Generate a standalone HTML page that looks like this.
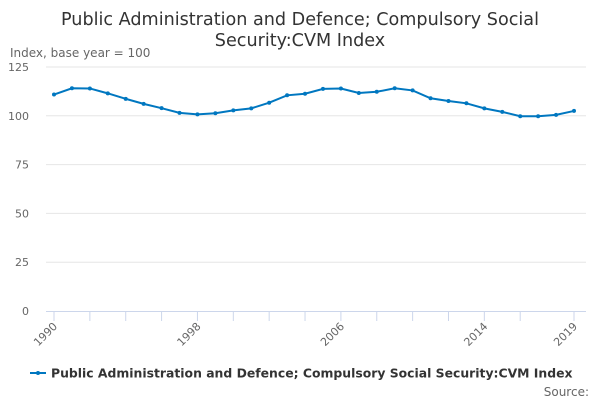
<!DOCTYPE html>
<html><head><meta charset="utf-8"><style>
body{margin:0;background:#fff;}
svg{display:block;font-family:"DejaVu Sans","Liberation Sans",sans-serif;}
</style></head><body>
<svg id="chart" width="600" height="400" viewBox="0 0 600 400">
<text x="300" y="25" text-anchor="middle" font-size="17.6" fill="#333">Public Administration and Defence; Compulsory Social</text>
<text x="300" y="46" text-anchor="middle" font-size="17.6" fill="#333">Security:CVM Index</text>
<text x="10" y="57" font-size="12" fill="#666">Index, base year = 100</text>
<g id="grid"></g><g id="xaxis"></g>
<path id="line" fill="none" stroke="#0077c0" stroke-width="2"/>
<g id="pts"></g>
<g>
<line x1="30" y1="373" x2="46" y2="373" stroke="#0077c0" stroke-width="2"/>
<circle cx="38" cy="373" r="2" fill="#0077c0"/>
<text x="51" y="377.5" font-size="12.4" font-weight="bold" fill="#333">Public Administration and Defence; Compulsory Social Security:CVM Index</text>
</g>
<text x="589" y="396" text-anchor="end" font-size="12" fill="#666">Source:</text>
</svg>
<script>
const years=[1990,1991,1992,1993,1994,1995,1996,1997,1998,1999,2000,2001,2002,2003,2004,2005,2006,2007,2008,2009,2010,2011,2012,2013,2014,2015,2016,2017,2018,2019];
const values=[110.9,114.1,114,111.5,108.7,106.1,103.9,101.5,100.7,101.3,102.8,103.8,106.7,110.5,111.3,113.8,114,111.7,112.3,114.1,113,109,107.6,106.4,103.8,102,99.8,99.8,100.5,102.5];
const yTicks=[0,25,50,75,100,125];
const xLabels=[1990,1998,2006,2014,2019];
const xTicks=[1990,1992,1994,1996,1998,2000,2002,2004,2006,2008,2010,2012,2014,2016,2019];
const NS="http://www.w3.org/2000/svg";
const X=y=>54+(y-1990)*(574-54)/29;
const Y=v=>311-v*(311-67)/125;
const grid=document.getElementById('grid');
yTicks.forEach(t=>{
 if(t>0){const l=document.createElementNS(NS,'line');
 l.setAttribute('x1',46);l.setAttribute('x2',586);l.setAttribute('y1',Y(t));l.setAttribute('y2',Y(t));
 l.setAttribute('stroke','#e6e6e6');
 
 
 grid.appendChild(l);}
 const tx=document.createElementNS(NS,'text');
 tx.setAttribute('x',29);tx.setAttribute('y',Y(t)+4);tx.setAttribute('text-anchor','end');
 tx.setAttribute('font-size','11');tx.setAttribute('fill','#666');tx.textContent=t;
 
 
 grid.appendChild(tx);
});
const xa=document.getElementById('xaxis');
const al=document.createElementNS(NS,'line');
al.setAttribute('x1',46);al.setAttribute('x2',586);al.setAttribute('y1',311.5);al.setAttribute('y2',311.5);al.setAttribute('stroke','#ccd6eb');


xa.appendChild(al);
xTicks.forEach(v=>{
 const t=document.createElementNS(NS,'line');
 t.setAttribute('x1',X(v));t.setAttribute('x2',X(v));t.setAttribute('y1',311);t.setAttribute('y2',321);
 t.setAttribute('stroke','#ccd6eb');
 
 
 xa.appendChild(t);
});
xLabels.forEach(v=>{
 const tx=document.createElementNS(NS,'text');
 const x=X(v),y=327;
 tx.setAttribute('x',x+4);tx.setAttribute('y',y);tx.setAttribute('text-anchor','end');
 tx.setAttribute('font-size','11');tx.setAttribute('fill','#666');
 tx.setAttribute('transform','rotate(-45 '+(x+4)+' '+y+')');
 tx.textContent=v;
 
 
 xa.appendChild(tx);
});
document.getElementById('line').setAttribute('d',values.map((v,i)=>(i?'L':'M')+X(years[i])+' '+Y(v)).join(' '));
const pts=document.getElementById('pts');
values.forEach((v,i)=>{
 const c=document.createElementNS(NS,'circle');
 c.setAttribute('cx',X(years[i]));c.setAttribute('cy',Y(v));c.setAttribute('r',2);c.setAttribute('fill','#0077c0');
 
 
 pts.appendChild(c);
});
</script>
</body></html>
